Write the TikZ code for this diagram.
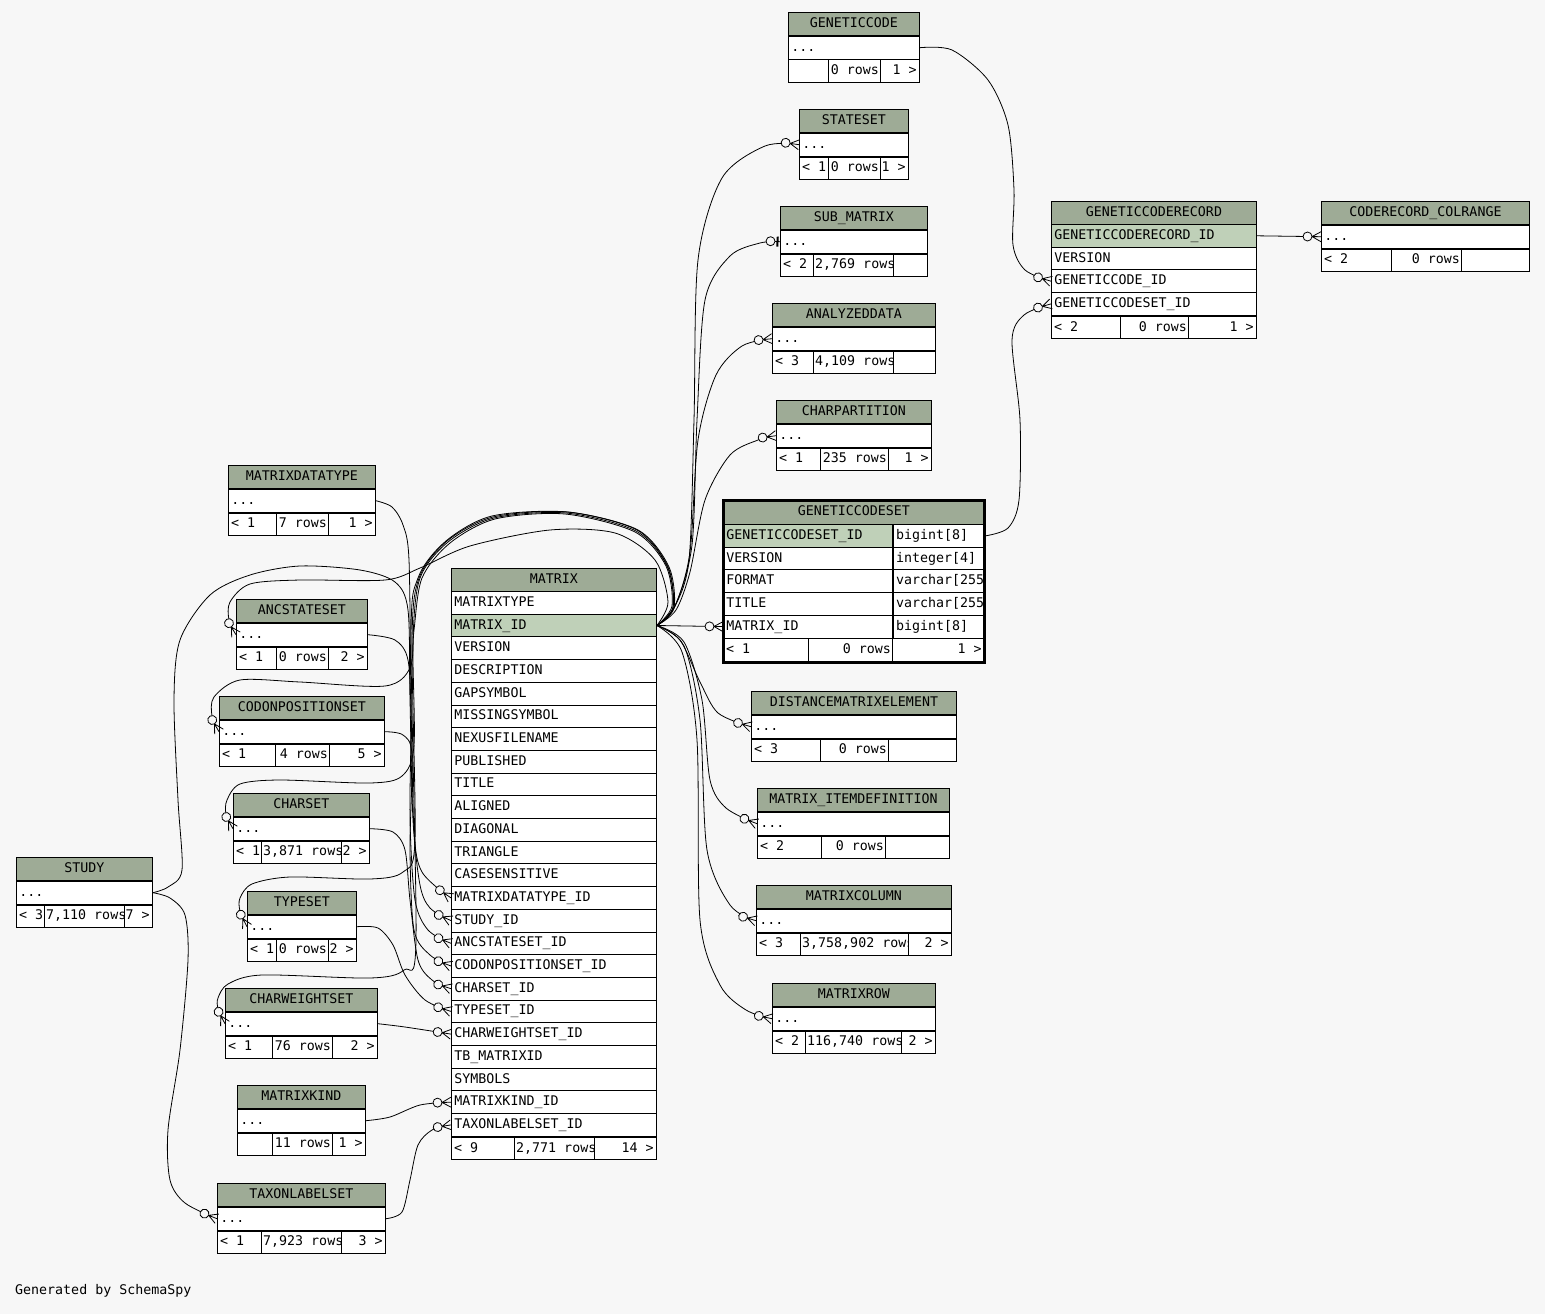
\documentclass[tikz,border=0pt]{standalone}
\usepackage{fontspec}
\setmainfont{DejaVu Sans Mono}
\usetikzlibrary{arrows.meta}

\definecolor{bg}{HTML}{F7F7F7}
\definecolor{headgreen}{HTML}{9EAB96}
\definecolor{keygreen}{HTML}{BFD0B8}

% zero or many: open circle and crow's foot
\pgfdeclarearrow{
  name = Crow,
  setup code = {
    \pgfarrowssettipend{0pt}
    \pgfarrowssetlineend{-18pt}
    \pgfarrowssetbackend{-18pt}
    \pgfarrowssetvisualbackend{-18pt}
    \pgfarrowsupperhullpoint{0pt}{5pt}
    \pgfarrowsupperhullpoint{-18pt}{5pt}
  },
  drawing code = {
    \pgfpathmoveto{\pgfqpoint{0pt}{5pt}}
    \pgfpathlineto{\pgfqpoint{-9pt}{0pt}}
    \pgfpathlineto{\pgfqpoint{0pt}{-5pt}}
    \pgfpathmoveto{\pgfqpoint{0pt}{0pt}}
    \pgfpathlineto{\pgfqpoint{-9pt}{0pt}}
    \pgfusepathqstroke
    \pgfsetfillcolor{bg}
    \pgfpathcircle{\pgfqpoint{-13.5pt}{0pt}}{4.5pt}
    \pgfusepathqfillstroke
  }
}
% zero or one: open circle and bar
\pgfdeclarearrow{
  name = ZeroOne,
  setup code = {
    \pgfarrowssettipend{0pt}
    \pgfarrowssetlineend{-14pt}
    \pgfarrowssetbackend{-14pt}
    \pgfarrowssetvisualbackend{-14pt}
    \pgfarrowsupperhullpoint{0pt}{5pt}
    \pgfarrowsupperhullpoint{-14pt}{5pt}
  },
  drawing code = {
    \pgfpathmoveto{\pgfqpoint{-5pt}{0pt}}
    \pgfpathlineto{\pgfqpoint{0pt}{0pt}}
    \pgfusepathqstroke
    \pgfsetlinewidth{2pt}
    \pgfpathmoveto{\pgfqpoint{-2.5pt}{-5pt}}
    \pgfpathlineto{\pgfqpoint{-2.5pt}{5pt}}
    \pgfusepathqstroke
    \pgfsetlinewidth{0.8pt}
    \pgfsetfillcolor{bg}
    \pgfpathcircle{\pgfqpoint{-9.5pt}{0pt}}{4.5pt}
    \pgfusepathqfillstroke
  }
}

\tikzset{
  txt/.style={font=\fontsize{13.3}{16}\selectfont, inner sep=3pt, text height=9.5pt, text depth=2.5pt},
  hdr/.style={txt, draw, line width=0.9pt, fill=headgreen, anchor=north west, minimum height=23pt},
  cell/.style={txt, draw, line width=0.9pt, fill=white, anchor=north west, minimum height=22.7pt, align=left},
  rel/.style={line width=0.8pt},
  many/.style={-Crow},
  one/.style={-ZeroOne},
  mxrow2/.style={fill=keygreen},
  gcsrow1/.style={fill=keygreen},
  gcrrow1/.style={fill=keygreen}
}

% table with one row of dots and a footer
\newcommand{\smalltab}[5]{%
  \pgfmathsetmacro\tabw{#4-6}%
  \node[hdr, minimum width=#4pt] (#1) at (#2,#3) {#5};
  \node[cell, text width=\tabw pt] (#1-r) at (#1.south west) {...};
  \node[cell, minimum width=#4pt] (#1-f) at (#1-r.south west) {};
}
% footer cells: name, split1, split2, left, middle, right, middle x, middle anchor
\newcommand{\tabfoot}[8]{%
  \draw[line width=0.9pt] (#1-f.north -| #2,0) -- (#1-f.south -| #2,0)
    (#1-f.north -| #3,0) -- (#1-f.south -| #3,0);
  \begin{scope}
    \clip (#1-f.north west) rectangle (#1-f.south -| #2,0);
    \node[txt, anchor=west] (#1-fl) at (#1-f.west) {#4};
  \end{scope}
  \begin{scope}
    \clip (#1-f.north -| #2,0) rectangle (#1-f.south -| #3,0);
    \node[txt, anchor=#8] (#1-fm) at (#1-f.west -| #7,0) {#5};
  \end{scope}
  \node[txt, anchor=east] (#1-fr) at (#1-f.east) {#6};
}

\begin{document}
\begin{tikzpicture}[x=1pt, y=-1pt]
\useasboundingbox (0,0) rectangle (1545,1314);
\fill[bg] (0,0) rectangle (1545,1314);

% right column
\smalltab{gc}{788}{12}{131}{GENETICCODE}
\tabfoot{gc}{828}{880}{}{0 rows}{1 >}{882}{east}
\smalltab{sset}{799}{109}{109}{STATESET}
\tabfoot{sset}{828}{880}{< 1}{0 rows}{1 >}{882}{east}
\smalltab{sub}{780}{206}{147}{SUB\_MATRIX}
\tabfoot{sub}{813}{893}{< 2}{2,769 rows}{}{812}{west}
\smalltab{ad}{772}{303}{163}{ANALYZEDDATA}
\tabfoot{ad}{813}{893}{< 3}{4,109 rows}{}{812}{west}
\smalltab{cp}{776}{400}{155}{CHARPARTITION}
\tabfoot{cp}{820}{888}{< 1}{235 rows}{1 >}{890}{east}
\smalltab{dme}{751}{691}{205}{DISTANCEMATRIXELEMENT}
\tabfoot{dme}{820}{888}{< 3}{0 rows}{}{890}{east}
\smalltab{mid}{757}{788}{192}{MATRIX\_ITEMDEFINITION}
\tabfoot{mid}{821}{885}{< 2}{0 rows}{}{887}{east}
\smalltab{mc}{756}{885}{195}{MATRIXCOLUMN}
\tabfoot{mc}{800}{908}{< 3}{3,758,902 rows}{2 >}{799}{west}
\smalltab{mr}{772}{983}{163}{MATRIXROW}
\tabfoot{mr}{805}{901}{< 2}{116,740 rows}{2 >}{804}{west}
\smalltab{ccr}{1321}{201}{208}{CODERECORD\_COLRANGE}
\tabfoot{ccr}{1391}{1461}{< 2}{0 rows}{}{1463}{east}

% left column
\smalltab{mdt}{228}{465}{147}{MATRIXDATATYPE}
\tabfoot{mdt}{276}{328}{< 1}{7 rows}{1 >}{330}{east}
\smalltab{anc}{236}{599}{131}{ANCSTATESET}
\tabfoot{anc}{276}{328}{< 1}{0 rows}{2 >}{330}{east}
\smalltab{codon}{219}{696}{165}{CODONPOSITIONSET}
\tabfoot{codon}{275}{329}{< 1}{4 rows}{5 >}{331}{east}
\smalltab{cs}{233}{793}{136}{CHARSET}
\tabfoot{cs}{261}{341}{< 1}{3,871 rows}{2 >}{260}{west}
\smalltab{ts}{247}{891}{109}{TYPESET}
\tabfoot{ts}{276}{328}{< 1}{0 rows}{2 >}{330}{east}
\smalltab{cw}{225}{988}{152}{CHARWEIGHTSET}
\tabfoot{cw}{272}{332}{< 1}{76 rows}{2 >}{334}{east}
\smalltab{mk}{237}{1085}{128}{MATRIXKIND}
\tabfoot{mk}{272}{332}{}{11 rows}{1 >}{334}{east}
\smalltab{tls}{217}{1183}{168}{TAXONLABELSET}
\tabfoot{tls}{261}{341}{< 1}{7,923 rows}{3 >}{260}{west}
\smalltab{study}{16}{857}{136}{STUDY}
\tabfoot{study}{44}{124}{< 3}{7,110 rows}{7 >}{43}{west}

% MATRIX
\node[hdr, minimum width=205pt] (mx) at (451,568) {MATRIX};
\foreach \c [count=\i] in {MATRIXTYPE, MATRIX\_ID, VERSION, DESCRIPTION, GAPSYMBOL,
    MISSINGSYMBOL, NEXUSFILENAME, PUBLISHED, TITLE, ALIGNED, DIAGONAL, TRIANGLE,
    CASESENSITIVE, MATRIXDATATYPE\_ID, STUDY\_ID, ANCSTATESET\_ID, CODONPOSITIONSET\_ID,
    CHARSET\_ID, TYPESET\_ID, CHARWEIGHTSET\_ID, TB\_MATRIXID, SYMBOLS, MATRIXKIND\_ID,
    TAXONLABELSET\_ID}
  \node[cell, text width=199pt, mxrow\i/.try] (mx-\i) at (451,{591+(\i-1)*22.7}) {\c};
\node[cell, minimum width=205pt] (mx-f) at (mx-24.south west) {};
\tabfoot{mx}{514}{594}{< 9}{2,771 rows}{14 >}{513}{west}

% GENETICCODESET
\node[hdr, minimum width=261pt, minimum height=24pt] (gcs) at (723,500) {GENETICCODESET};
\foreach \c/\t [count=\i] in {GENETICCODESET\_ID/bigint[8], VERSION/integer[4],
    FORMAT/varchar[255], TITLE/varchar[255], MATRIX\_ID/bigint[8]}{
  \node[cell, text width=163pt, gcsrow\i/.try] (gcs-\i) at (723,{524+(\i-1)*22.7}) {\c};
  \node[cell, minimum width=92pt] (gcs-\i-b) at (gcs-\i.north east) {};
  \begin{scope}
    \clip (gcs-\i-b.north west) rectangle (gcs-\i-b.south east);
    \node[txt, anchor=west] (gcs-\i-t) at (gcs-\i-b.west) {\t};
  \end{scope}
}
\node[cell, minimum width=261pt] (gcs-f) at (gcs-5.south west) {};
\tabfoot{gcs}{808}{892}{< 1}{0 rows}{1 >}{894}{east}
\draw[line width=3pt] (gcs.north west) rectangle (gcs-f.south east);

% GENETICCODERECORD
\node[hdr, minimum width=205pt] (gcr) at (1051,201) {GENETICCODERECORD};
\foreach \c [count=\i] in {GENETICCODERECORD\_ID, VERSION, GENETICCODE\_ID, GENETICCODESET\_ID}
  \node[cell, text width=199pt, gcrrow\i/.try] (gcr-\i) at (1051,{224+(\i-1)*22.7}) {\c};
\node[cell, minimum width=205pt] (gcr-f) at (gcr-4.south west) {};
\tabfoot{gcr}{1120}{1188}{< 2}{0 rows}{1 >}{1190}{east}

\node[txt, anchor=west] (credit) at (12,1291) {Generated by SchemaSpy};

% MATRIX_ID to the right
\draw[rel, many] plot[smooth] coordinates {(mx-2.east) (674,608) (689,560) (694,420) (698,260) (722,178) (765,146) (sset-r.west)};
\draw[rel, one] plot[smooth] coordinates {(mx-2.east) (675,606) (692,545) (697,420) (705,300) (730,256) (760,243) (sub-r.west)};
\draw[rel, many] plot[smooth] coordinates {(mx-2.east) (675,606) (690,552) (698,440) (716,375) (742,346) (ad-r.west)};
\draw[rel, many] plot[smooth] coordinates {(mx-2.east) (676,610) (690,572) (705,500) (730,455) (758,440) (cp-r.west)};
\draw[rel, many] (mx-2.east) -- (gcs-5.west);
\draw[rel, many] plot[smooth] coordinates {(mx-2.east) (680,640) (700,682) (718,713) (dme-r.west)};
\draw[rel, many] plot[smooth] coordinates {(mx-2.east) (684,642) (702,700) (710,780) (726,808) (mid-r.west)};
\draw[rel, many] plot[smooth] coordinates {(mx-2.east) (684,646) (700,720) (707,850) (730,905) (mc-r.west)};
\draw[rel, many] plot[smooth] coordinates {(mx-2.east) (682,652) (697,740) (700,920) (720,985) (746,1010) (mr-r.west)};

% MATRIX_ID over the top to the left
\draw[rel, many] plot[smooth] coordinates {(mx-2.east) (668,602) (655,560) (615,533) (550,530) (470,546) (420,568) (385,580) (300,580) (250,584) (230,602) (229,620) (anc-r.west)};
\draw[rel, many] plot[smooth] coordinates {(mx-2.east) (672,606) (666,566) (635,532) (565,514) (495,519) (450,543) (422,578) (414,630) (410,668) (385,686) (300,682) (240,680) (214,697) (212,716) (codon-r.west)};
\draw[rel, many] plot[smooth] coordinates {(mx-2.east) (673,607) (667,566) (636,531) (566,513) (494,518) (448,542) (420,578) (413,640) (414,745) (402,776) (370,783) (280,780) (240,784) (227,800) (226,814) (cs-r.west)};
\draw[rel, many] plot[smooth] coordinates {(mx-2.east) (673,608) (668,567) (637,530) (567,512) (493,517) (447,541) (419,578) (412,640) (415,840) (403,872) (370,879) (290,877) (252,884) (240,898) (240,911) (ts-r.west)};
\draw[rel, many] plot[smooth] coordinates {(mx-2.east) (674,608) (669,567) (638,530) (568,512) (492,516) (446,541) (418,578) (411,640) (416,940) (404,970) (370,978) (262,975) (228,984) (218,998) (218,1009) (cw-r.west)};

% into the left side of MATRIX
\draw[rel, many] plot[smooth] coordinates {(mdt-r.east) (392,507) (403,525) (409,560) (411,700) (414,830) (422,872) (mx-14.west)};
\draw[rel, many] plot[smooth] coordinates {(study-r.east) (168,887) (182,870) (178,800) (174,700) (180,640) (210,595) (250,575) (300,566) (360,570) (395,582) (408,610) (410,700) (413,820) (420,885) (430,908) (mx-15.west)};
\draw[rel, many] plot[smooth] coordinates {(study-r.east) (170,898) (185,915) (188,960) (180,1050) (168,1130) (170,1180) (185,1203) (tls-r.west)};
\draw[rel, many] plot[smooth] coordinates {(anc-r.east) (395,640) (408,660) (411,720) (410,820) (415,900) (428,930) (mx-16.west)};
\draw[rel, many] plot[smooth] coordinates {(codon-r.east) (403,735) (412,755) (410,850) (414,930) (430,955) (mx-17.west)};
\draw[rel, many] plot[smooth] coordinates {(cs-r.east) (393,832) (405,850) (410,900) (418,960) (432,980) (mx-18.west)};
\draw[rel, many] plot[smooth] coordinates {(ts-r.east) (378,928) (393,945) (405,975) (425,1000) (mx-19.west)};
\draw[rel, many] plot[smooth] coordinates {(cw-r.east) (405,1027) (mx-20.west)};
\draw[rel, many] plot[smooth] coordinates {(mk-r.east) (390,1117) (420,1105) (mx-23.west)};
\draw[rel, many] plot[smooth] coordinates {(tls-r.east) (402,1212) (410,1180) (418,1145) (432,1130) (mx-24.west)};

% genetic code tables
\draw[rel, many] plot[smooth] coordinates {(gc-r.east) (952,50) (988,80) (1008,125) (1014,190) (1013,245) (1025,270) (gcr-3.west)};
\draw[rel, many] plot[smooth] coordinates {(gcs-1-b.east) (1008,528) (1019,500) (1020,420) (1012,340) (1024,315) (gcr-4.west)};
\draw[rel, many] (gcr-1.east) -- (ccr-r.west);
\end{tikzpicture}
\end{document}
